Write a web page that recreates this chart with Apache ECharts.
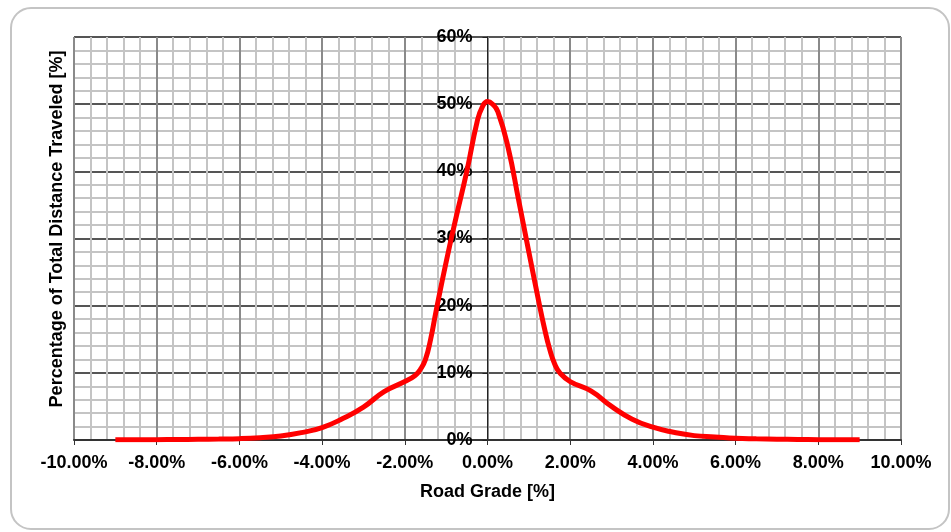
<!DOCTYPE html>
<html>
<head>
<meta charset="utf-8">
<script src="https://cdn.jsdelivr.net/npm/echarts@6/dist/echarts.min.js"></script>
<style>
html,body{margin:0;padding:0;background:#fff;}
#chart{width:951px;height:532px;}
</style>
</head>
<body>
<div id="chart"></div>
<script>
const grades = [-9, -8.5, -8, -7.5, -7, -6.5, -6, -5.5, -5, -4.5, -4, -3.5, -3, -2.5, -2, -1.75, -1.625, -1.5, -1.375, -1.25, -1, -0.75, -0.5, -0.25, -0.125, 0, 0.125, 0.25, 0.5, 0.75, 1, 1.25, 1.375, 1.5, 1.625, 1.75, 2, 2.5, 3, 3.5, 4, 4.5, 5, 5.5, 6, 6.5, 7, 7.5, 8, 8.5, 9];
const percentDistance = [0.02, 0.03, 0.05, 0.07, 0.1, 0.14, 0.2, 0.35, 0.6, 1.1, 1.85, 3.2, 4.9, 7.2, 8.7, 9.6, 10.5, 12.0, 15.0, 19.0, 26.5, 33.4, 40.0, 47.4, 49.6, 50.4, 50.0, 48.9, 43.5, 35.8, 28.0, 20.3, 16.7, 13.6, 11.3, 10.0, 8.7, 7.3, 5.0, 3.1, 1.9, 1.15, 0.65, 0.45, 0.25, 0.17, 0.12, 0.08, 0.05, 0.03, 0.02];
const xTitle = 'Road Grade [%]';
const yTitle = 'Percentage of Total Distance Traveled [%]';

const chart = echarts.init(document.getElementById('chart'));
const font = 'Liberation Sans, Arial, sans-serif';
const gridLeft = 74, gridRight = 50, chartW = 951;
const plotW = chartW - gridLeft - gridRight;
const xMin = -10, xMax = 10;
// place the y axis at grade 0 (shift from the left edge of the grid)
const yAxisOffset = -plotW * (0 - xMin) / (xMax - xMin);
chart.setOption({
  animation: false,
  backgroundColor: '#ffffff',
  grid: { left: gridLeft, right: gridRight, top: 37, bottom: 92, show: false },
  graphic: [
    { type: 'rect', shape: { x: 11, y: 8, width: 938, height: 521, r: 20 },
      style: { fill: 'none', stroke: '#c4c4c4', lineWidth: 2 }, z: -10 },
    { type: 'text', x: 57, y: 229, rotation: Math.PI / 2,
      style: { text: yTitle, font: 'bold 18px ' + font, fill: '#000', align: 'center', verticalAlign: 'middle' } }
  ],
  xAxis: {
    type: 'value', min: xMin, max: xMax, interval: 2,
    name: xTitle, nameLocation: 'middle', nameGap: 43,
    nameTextStyle: { fontFamily: font, fontWeight: 'bold', fontSize: 18, color: '#000' },
    axisLine: { onZero: false, lineStyle: { color: '#333', width: 2 } },
    axisTick: { show: true, length: 5, lineStyle: { color: '#333', width: 1 } },
    axisLabel: { margin: 14, fontFamily: font, fontWeight: 'bold', fontSize: 18, color: '#000',
      formatter: v => v.toFixed(2) + '%' },
    splitLine: { show: true, lineStyle: { color: '#8a8a8a', width: 2 } },
    minorTick: { show: false, splitNumber: 5 },
    minorSplitLine: { show: true, lineStyle: { color: '#c4c4c4', width: 2 } }
  },
  yAxis: {
    type: 'value', min: 0, max: 60, interval: 10,
    position: 'left', offset: yAxisOffset,
    axisLine: { show: true, onZero: false, lineStyle: { color: '#222', width: 1 } },
    axisTick: { show: true, length: 5, lineStyle: { color: '#222' } },
    axisLabel: { margin: 15, fontFamily: font, fontWeight: 'bold', fontSize: 18, color: '#000',
      formatter: v => v + '%' },
    splitLine: { show: true, lineStyle: { color: '#555', width: 2 } },
    minorTick: { show: false, splitNumber: 5 },
    minorSplitLine: { show: true, lineStyle: { color: '#c4c4c4', width: 2 } }
  },
  series: [{
    type: 'line',
    data: grades.map((g, i) => [g, percentDistance[i]]),
    smooth: 0.5,
    showSymbol: false,
    lineStyle: { color: '#ff0000', width: 5 },
    z: 5
  }]
});
</script>
</body>
</html>
